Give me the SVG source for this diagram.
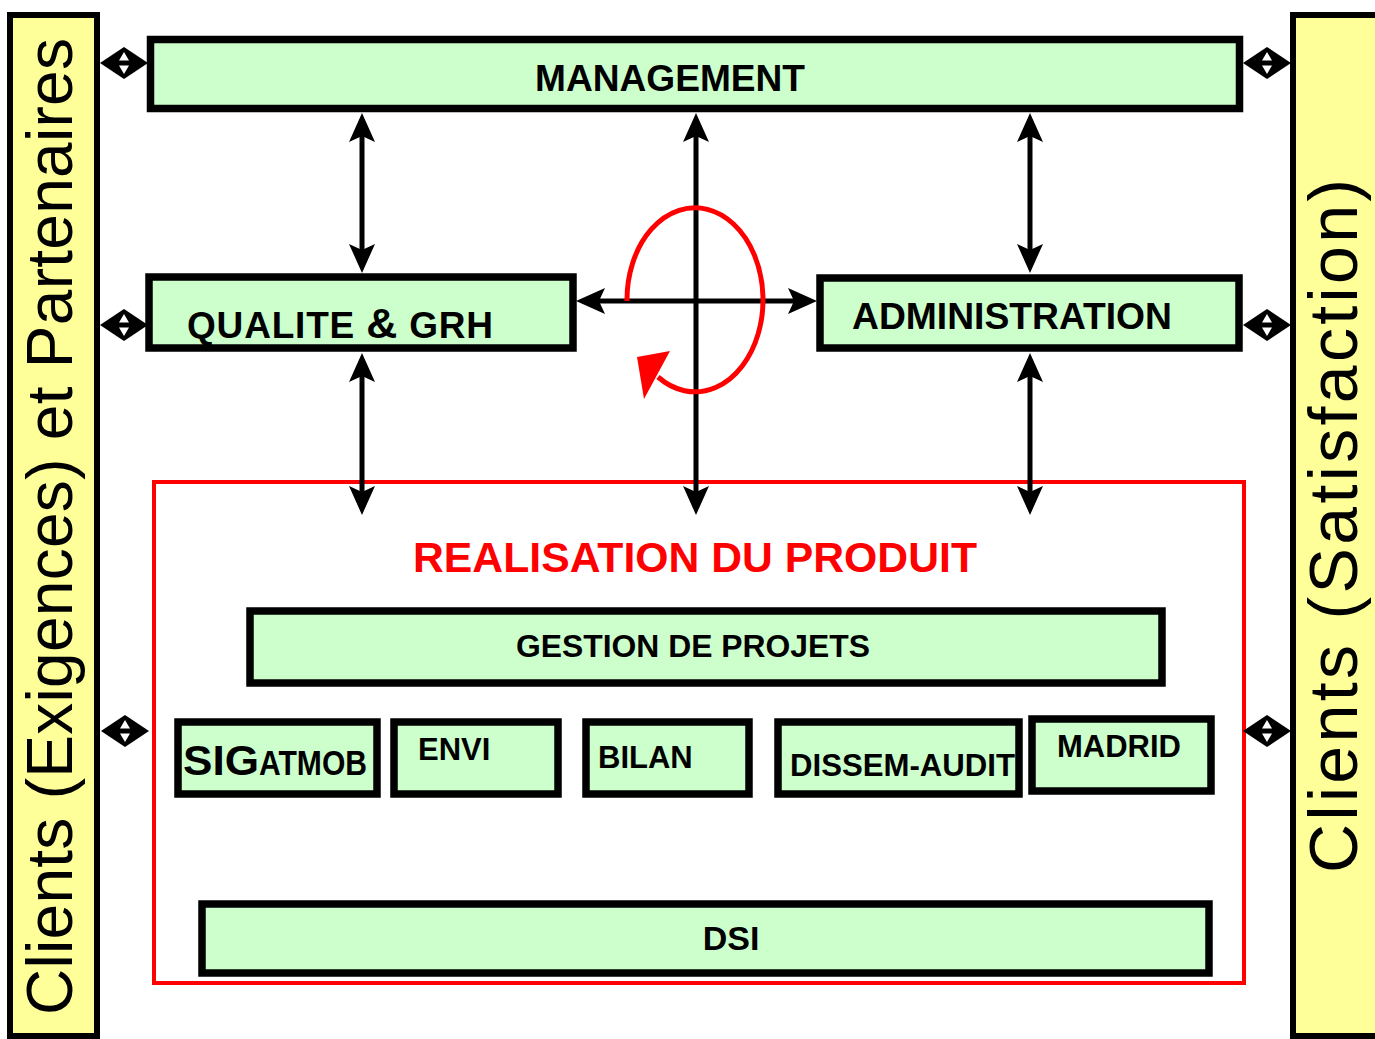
<svg xmlns="http://www.w3.org/2000/svg" width="1375" height="1039" viewBox="0 0 1375 1039">
<style>
text{font-family:"Liberation Sans",Arial,sans-serif;font-weight:bold;fill:#000}
.side{fill:#ffff99;stroke:#000;stroke-width:6}
.box{fill:#ccffcc;stroke:#000;stroke-width:7.5}
.conn{stroke:#000;stroke-width:5;fill:none;marker-start:url(#ah);marker-end:url(#ah)}
.side-t{font-weight:normal}
</style>
<defs>
<marker id="ah" markerUnits="userSpaceOnUse" viewBox="-12 -15 34 30" refX="0" refY="0" markerWidth="34" markerHeight="30" orient="auto-start-reverse">
<path d="M20,0 L-9,-13 L-3,0 L-9,13 Z" fill="#000"/>
</marker>
<g id="dd">
<path d="M-24,0 L0,-16 L24,0 L0,16 Z" fill="#000"/>
<path d="M0,-11 L5,-2.5 L-5,-2.5 Z M0,11 L5,2.5 L-5,2.5 Z" fill="#fff"/>
</g>
</defs>

<g id="clients-left">
<rect class="side" x="10" y="15" width="87" height="1021"/>
<text class="side-t" transform="translate(72,1015) rotate(-90)" font-size="64" textLength="977" lengthAdjust="spacing">Clients (Exigences) et Partenaires</text>
</g>
<g id="clients-right">
<rect class="side" x="1293" y="15" width="100" height="1021"/>
<text class="side-t" transform="translate(1357,873) rotate(-90)" font-size="68" textLength="694" lengthAdjust="spacing">Clients (Satisfaction)</text>
</g>

<g id="realisation">
<rect x="154" y="482" width="1090" height="501" fill="none" stroke="#ff0000" stroke-width="4"/>
<text x="413" y="572" font-size="42" textLength="564" lengthAdjust="spacingAndGlyphs" style="fill:#ff0000">REALISATION DU PRODUIT</text>
</g>

<g id="management">
<rect class="box" x="150.5" y="39.5" width="1089" height="69"/>
<text x="535" y="91" font-size="37" textLength="270" lengthAdjust="spacingAndGlyphs">MANAGEMENT</text>
</g>
<g id="qualite">
<rect class="box" x="149" y="277" width="424" height="71"/>
<text x="187" y="338" font-size="37" textLength="306" lengthAdjust="spacing">QUALITE <tspan font-size="43">&amp;</tspan> GRH</text>
</g>
<g id="administration">
<rect class="box" x="820" y="278" width="419" height="70"/>
<text x="852" y="329" font-size="37" textLength="320" lengthAdjust="spacingAndGlyphs">ADMINISTRATION</text>
</g>
<g id="gestion">
<rect class="box" x="250" y="611" width="912" height="72"/>
<text x="516" y="657" font-size="32" textLength="354" lengthAdjust="spacingAndGlyphs">GESTION DE PROJETS</text>
</g>
<g id="sigatmob">
<rect class="box" x="178" y="722" width="199" height="72"/>
<text x="183" y="775" font-size="42" textLength="76" lengthAdjust="spacingAndGlyphs">SIG</text>
<text x="259" y="775" font-size="35" textLength="108" lengthAdjust="spacingAndGlyphs">ATMOB</text>
</g>
<g id="envi">
<rect class="box" x="394" y="722" width="164" height="72"/>
<text x="418" y="760" font-size="31">ENVI</text>
</g>
<g id="bilan">
<rect class="box" x="586" y="722" width="163" height="72"/>
<text x="598" y="768" font-size="31">BILAN</text>
</g>
<g id="dissem-audit">
<rect class="box" x="778" y="722" width="241" height="72"/>
<text x="790" y="776" font-size="31" textLength="225" lengthAdjust="spacingAndGlyphs">DISSEM-AUDIT</text>
</g>
<g id="madrid">
<rect class="box" x="1032" y="719" width="179" height="72"/>
<text x="1057" y="757" font-size="31">MADRID</text>
</g>
<g id="dsi">
<rect class="box" x="202" y="904" width="1007" height="69"/>
<text x="731" y="950" font-size="34" text-anchor="middle">DSI</text>
</g>

<g id="connectors">
<line class="conn" x1="362" y1="133" x2="362" y2="253"/>
<line class="conn" x1="362" y1="373" x2="362" y2="495"/>
<line class="conn" x1="696" y1="133" x2="696" y2="495"/>
<line class="conn" x1="1030" y1="133" x2="1030" y2="253"/>
<line class="conn" x1="1030" y1="373" x2="1030" y2="495"/>
<line class="conn" x1="596" y1="301" x2="797" y2="301"/>
<use href="#dd" x="124" y="63"/>
<use href="#dd" x="124" y="325"/>
<use href="#dd" x="125" y="731"/>
<use href="#dd" x="1267" y="63"/>
<use href="#dd" x="1267" y="325"/>
<use href="#dd" x="1267" y="731"/>
<path d="M627,301 A68,92 0 1 1 658,377" fill="none" stroke="#ff0000" stroke-width="5"/>
<path d="M644,399 L637,357 L670,351 Z" fill="#ff0000"/>
</g>
</svg>
